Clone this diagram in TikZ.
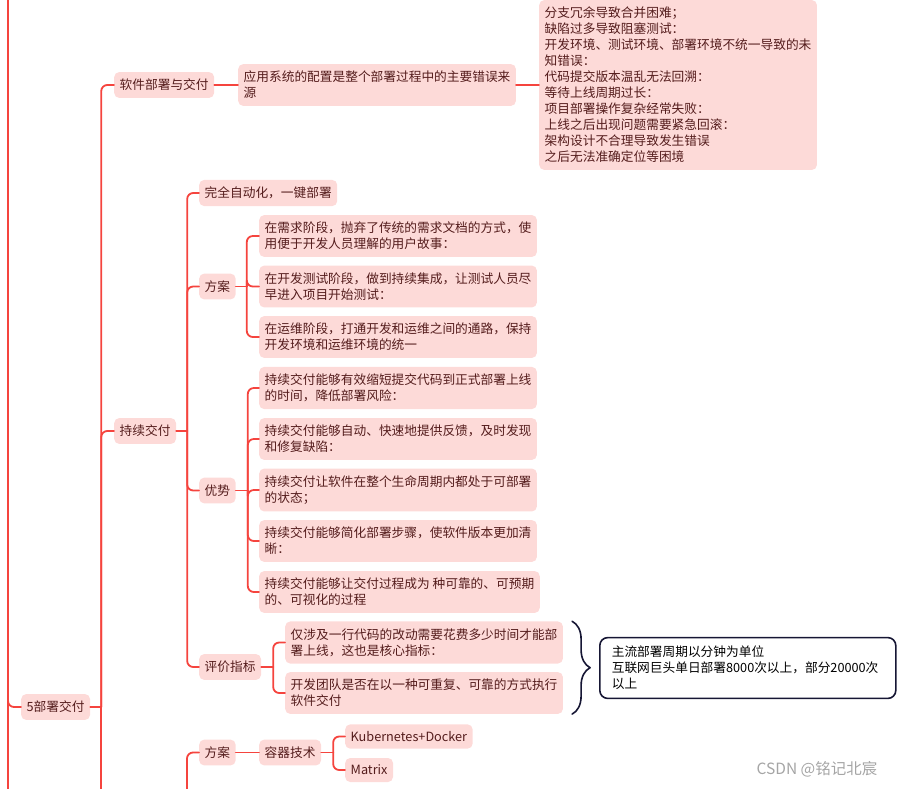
\documentclass[tikz,border=0pt]{standalone}
\usepackage{fontspec}
\setmainfont{Noto Sans CJK SC}
\usepackage{tikz}
\usetikzlibrary{calc,decorations.pathreplacing}

\definecolor{xline}{RGB}{245,68,62}
\definecolor{xfill}{RGB}{253,218,216}
\definecolor{xtext}{RGB}{84,28,28}
\definecolor{xnavy}{RGB}{22,22,52}
\definecolor{xgray}{RGB}{165,165,165}

\tikzset{
	topic/.style={fill=xfill, rounded corners=5pt, text=xtext, align=left, anchor=west,
		inner xsep=5.5pt, inner ysep=7pt, font=\fontsize{12.7}{16}\selectfont},
	link/.style={draw=xline, line width=1.8pt, rounded corners=6pt},
	callout/.style={draw=xnavy, line width=1.6pt, fill=white, rounded corners=8pt, text=black,
		align=left, anchor=west, text width=272pt, inner xsep=12pt, inner ysep=8.5pt,
		font=\fontsize{12.7}{16}\selectfont},
	bracebar/.style={draw=xnavy, line width=1.6pt, decorate, decoration={brace, amplitude=18pt}},
}

\begin{document}
\begin{tikzpicture}[x=1pt, y=-1pt, line join=round, line cap=round]
	
	% --- 1. 画布范围 ---
	\useasboundingbox (0,0) rectangle (900,788);
	
	% --- 2. 节点 ---
	% 第一层
	\node[topic] (d5) at (21,707) {5部署交付};
	\node[topic] (sw) at (114,85) {软件部署与交付};
	\node[topic] (cd) at (114,431) {持续交付};
	
	% 软件部署与交付
	\node[topic] (cfg) at (238,85) {应用系统的配置是整个部署过程中的主要错误来\\源};
	\node[topic] (err) at (539,85) {分支冗余导致合并困难；\\缺陷过多导致阻塞测试：\\开发环境、测试环境、部署环境不统一导致的未\\知错误：\\代码提交版本温乱无法回溯：\\等待上线周期过长：\\项目部署操作复杂经常失败：\\上线之后出现问题需要紧急回滚：\\架构设计不合理导致发生错误\\之后无法准确定位等困境};
	
	% 持续交付
	\node[topic] (auto) at (199,193) {完全自动化，一键部署};
	\node[topic] (fa1) at (199,286.5) {方案};
	\node[topic] (fa1a) at (259,236) {在需求阶段，抛弃了传统的需求文档的方式，使\\用便于开发人员理解的用户故事：};
	\node[topic] (fa1b) at (259,286.5) {在开发测试阶段，做到持续集成，让测试人员尽\\早进入项目开始测试：};
	\node[topic] (fa1c) at (259,337) {在运维阶段，打通开发和运维之间的通路，保持\\开发环境和运维环境的统一};
	
	\node[topic] (ys) at (199,490.5) {优势};
	\node[topic] (ys1) at (259,388) {持续交付能够有效缩短提交代码到正式部署上线\\的时间，降低部署风险：};
	\node[topic] (ys2) at (259,439) {持续交付能够自动、快速地提供反馈，及时发现\\和修复缺陷：};
	\node[topic] (ys3) at (259,490) {持续交付让软件在整个生命周期内都处于可部署\\的状态；};
	\node[topic] (ys4) at (259,541) {持续交付能够简化部署步骤，使软件版本更加清\\晰：};
	\node[topic] (ys5) at (259,592) {持续交付能够让交付过程成为 种可靠的、可预期\\的、可视化的过程};
	
	\node[topic] (pj) at (199,667) {评价指标};
	\node[topic] (pj1) at (285,642.5) {仅涉及一行代码的改动需要花费多少时间才能部\\署上线，这也是核心指标：};
	\node[topic] (pj2) at (285,693) {开发团队是否在以一种可重复、可靠的方式执行\\软件交付};
	\node[callout] (note) at (599,668) {主流部署周期以分钟为单位\\互联网巨头单日部署8000次以上，部分20000次\\以上};
	
	% 下方被截断的分支
	\node[topic] (fa2) at (199,752.5) {方案};
	\node[topic] (rq) at (259,752.5) {容器技术};
	\node[topic] (k8s) at (345,736.5) {Kubernetes+Docker};
	\node[topic] (mtx) at (345,770) {Matrix};
	
	% 水印
	\node[text=xgray, font=\fontsize{15.5}{18}\selectfont] (wm) at (817,769.5) {CSDN @铭记北宸};
	
	% --- 3. 连线 ---
	% 最左侧主干 (画面外的根节点)
	\coordinate (lt) at (8,-5);
	\coordinate (lb) at (8,795);
	\draw[link] (lt) -- (lb);
	\draw[link] (lt) |- (d5.west);
	
	% 5部署交付 的分支, 第三个子节点在画面下方
	\draw[link] (d5.east) -- ++(11,0) coordinate (b5);
	\draw[link] (b5) |- (sw.west);
	\draw[link] (b5) |- (cd.west);
	\draw[link] (b5) -- (b5 |- lb);
	
	\draw[link] (sw.east) -- (cfg.west);
	\draw[link] (cfg.east) -- (err.west);
	
	\draw[link] (cd.east) -- ++(11,0) coordinate (bcd);
	\foreach \c in {auto,fa1,ys,pj} \draw[link] (bcd) |- (\c.west);
	
	\draw[link] (fa1.east) -- ++(11,0) coordinate (bfa);
	\foreach \c in {fa1a,fa1b,fa1c} \draw[link] (bfa) |- (\c.west);
	
	\draw[link] (ys.east) -- ++(12,0) coordinate (bys);
	\foreach \c in {ys1,ys2,ys3,ys4,ys5} \draw[link] (bys) |- (\c.west);
	
	\draw[link] (pj.east) -- ++(12,0) coordinate (bpj);
	\foreach \c in {pj1,pj2} \draw[link] (bpj) |- (\c.west);
	
	% 评价指标 的外框括号
	\draw[bracebar] ([xshift=9pt]pj1.north east) -- ([xshift=9pt]pj1.north east |- pj2.south east);
	
	% 方案 (画面外的父节点)
	\coordinate (hb) at (187,795);
	\draw[link] (hb) |- (fa2.west);
	\draw[link] (fa2.east) -- (rq.west);
	\draw[link] (rq.east) -- ++(12,0) coordinate (brq);
	\foreach \c in {k8s,mtx} \draw[link] (brq) |- (\c.west);
	
\end{tikzpicture}
\end{document}
